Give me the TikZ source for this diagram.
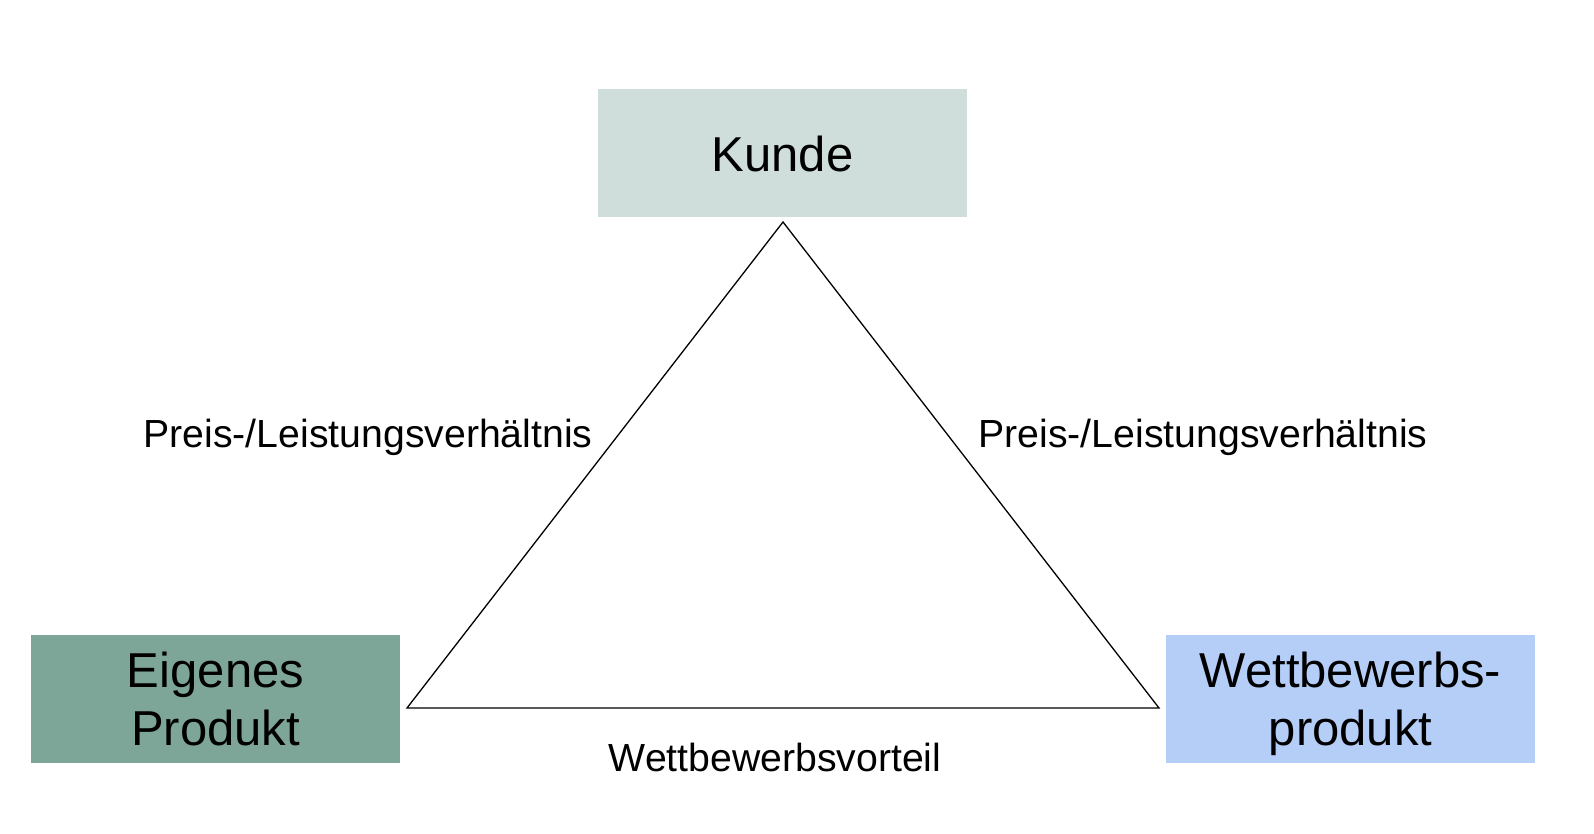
\documentclass[tikz,border=0pt]{standalone}
\usepackage{fontspec}
\setmainfont{Liberation Sans}
\definecolor{kundefill}{RGB}{207,222,218}
\definecolor{eigenfill}{RGB}{125,165,152}
\definecolor{wettfill}{RGB}{180,206,248}
\begin{document}
\begin{tikzpicture}[x=1pt,y=-1pt,
  boxnode/.style={rectangle,draw=none,minimum width=369pt,minimum height=128pt,inner sep=0pt,align=center,font=\fontsize{49}{58}\selectfont},
  lbl/.style={font=\fontsize{39.2}{44}\selectfont,anchor=base,inner sep=0pt},
  edge/.style={line width=1.3pt,line join=miter}]
\useasboundingbox (0,0) rectangle (1594,834);
\node[boxnode,fill=kundefill] (kunde) at (782.5,153.5) {Kunde};
\node[boxnode,fill=eigenfill] (eigen) at (215.5,699) {Eigenes\\Produkt};
\node[boxnode,fill=wettfill] (wett) at (1350.5,699) {Wettbewerbs-\\\raisebox{0pt}[\height][0pt]{produkt}};
\coordinate (top) at (783,222);
\coordinate (bl) at (407,708);
\coordinate (br) at (1159,708);
\draw[edge] (top) -- (bl) -- (br) -- cycle;
\node[lbl] (l1) at (368,447) {Preis-/Leistungsverhältnis};
\node[lbl] (l2) at (1203,447) {Preis-/Leistungsverhältnis};
\node[lbl] (l3) at (775,771) {Wettbewerbsvorteil};
\end{tikzpicture}
\end{document}
